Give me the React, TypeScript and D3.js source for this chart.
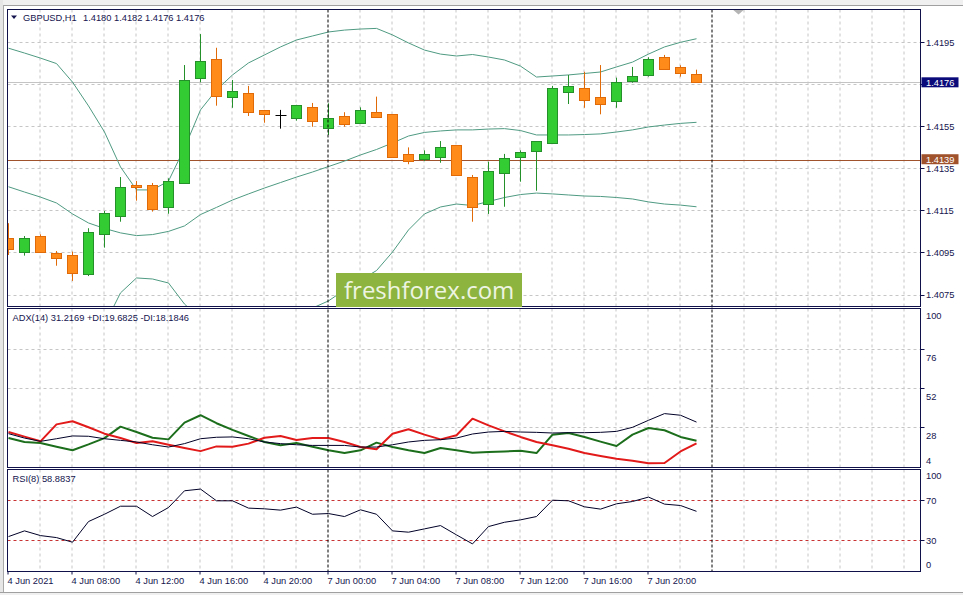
import React from 'react';
import * as d3 from 'd3';

// ---------- DATA ----------
const TIME_LABELS = ["4 Jun 2021", "4 Jun 08:00", "4 Jun 12:00", "4 Jun 16:00", "4 Jun 20:00", "7 Jun 00:00", "7 Jun 04:00", "7 Jun 08:00", "7 Jun 12:00", "7 Jun 16:00", "7 Jun 20:00"];
const TIME_LABEL_INDEX = [0, 4, 8, 12, 16, 20, 24, 28, 32, 36, 40];
const DAY_SEPARATOR_INDEX = [20, 44];

const OPEN = [1.41019, 1.40956, 1.41029, 1.40948, 1.40940, 1.40848, 1.41038, 1.41127, 1.41271, 1.41271, 1.41169, 1.41280, 1.41779, 1.41871, 1.41689, 1.41708, 1.41627, 1.41601, 1.41589, 1.41643, 1.41542, 1.41600, 1.41568, 1.41618, 1.41608, 1.41418, 1.41396, 1.41407, 1.41461, 1.41309, 1.41181, 1.41328, 1.41407, 1.41435, 1.41470, 1.41715, 1.41733, 1.41690, 1.41670, 1.41768, 1.41796, 1.41879, 1.41831, 1.41800];
const HIGH = [1.41091, 1.41030, 1.41038, 1.40959, 1.40956, 1.41067, 1.41149, 1.41310, 1.41291, 1.41282, 1.41304, 1.41842, 1.41989, 1.41924, 1.41771, 1.41743, 1.41629, 1.41629, 1.41653, 1.41662, 1.41660, 1.41618, 1.41641, 1.41692, 1.41608, 1.41451, 1.41437, 1.41481, 1.41461, 1.41320, 1.41383, 1.41420, 1.41437, 1.41480, 1.41743, 1.41795, 1.41810, 1.41842, 1.41782, 1.41833, 1.41879, 1.41890, 1.41841, 1.41820];
const LOW = [1.40940, 1.40937, 1.40956, 1.40889, 1.40817, 1.40840, 1.40975, 1.41098, 1.41198, 1.41146, 1.41136, 1.41280, 1.41760, 1.41649, 1.41639, 1.41600, 1.41568, 1.41540, 1.41578, 1.41549, 1.41510, 1.41549, 1.41568, 1.41592, 1.41407, 1.41371, 1.41386, 1.41378, 1.41318, 1.41098, 1.41135, 1.41169, 1.41288, 1.41245, 1.41470, 1.41657, 1.41639, 1.41608, 1.41639, 1.41758, 1.41787, 1.41822, 1.41787, 1.41760];
const CLOSE = [1.40967, 1.41019, 1.40956, 1.40927, 1.40856, 1.41048, 1.41138, 1.41262, 1.41262, 1.41157, 1.41290, 1.41771, 1.41861, 1.41696, 1.41719, 1.41618, 1.41608, 1.41601, 1.41651, 1.41578, 1.41589, 1.41561, 1.41627, 1.41597, 1.41407, 1.41388, 1.41418, 1.41451, 1.41318, 1.41167, 1.41339, 1.41399, 1.41429, 1.41480, 1.41733, 1.41743, 1.41677, 1.41658, 1.41760, 1.41790, 1.41869, 1.41822, 1.41806, 1.41760];

const BB_UPPER = [1.41922, 1.41899, 1.41875, 1.41849, 1.41761, 1.41648, 1.41524, 1.41358, 1.41249, 1.41249, 1.41291, 1.41448, 1.41629, 1.41724, 1.41795, 1.41852, 1.41890, 1.41928, 1.41961, 1.41980, 1.41999, 1.42008, 1.42013, 1.42016, 1.41985, 1.41947, 1.41913, 1.41894, 1.41885, 1.41892, 1.41880, 1.41866, 1.41837, 1.41785, 1.41790, 1.41795, 1.41802, 1.41809, 1.41833, 1.41856, 1.41894, 1.41928, 1.41950, 1.41967];
const BB_MIDDLE = [1.41264, 1.41239, 1.41215, 1.41187, 1.41135, 1.41092, 1.41066, 1.41045, 1.41032, 1.41037, 1.41052, 1.41078, 1.41132, 1.41166, 1.41201, 1.41230, 1.41258, 1.41284, 1.41310, 1.41334, 1.41360, 1.41386, 1.41415, 1.41441, 1.41472, 1.41505, 1.41522, 1.41529, 1.41534, 1.41534, 1.41538, 1.41540, 1.41531, 1.41510, 1.41510, 1.41510, 1.41512, 1.41515, 1.41524, 1.41534, 1.41548, 1.41557, 1.41565, 1.41570];
const BB_LOWER = [1.40608, 1.40579, 1.40555, 1.40525, 1.40508, 1.40536, 1.40608, 1.40760, 1.40831, 1.40826, 1.40807, 1.40707, 1.40636, 1.40608, 1.40608, 1.40608, 1.40627, 1.40641, 1.40660, 1.40688, 1.40722, 1.40774, 1.40821, 1.40866, 1.40954, 1.41059, 1.41135, 1.41168, 1.41182, 1.41175, 1.41194, 1.41213, 1.41227, 1.41234, 1.41230, 1.41225, 1.41220, 1.41218, 1.41213, 1.41206, 1.41192, 1.41182, 1.41177, 1.41169];

const ADX = [24.1, 21.4, 19.4, 21.0, 22.7, 22.5, 21.0, 20.0, 19.0, 17.3, 15.9, 18.0, 21.0, 21.9, 22.1, 21.0, 19.0, 18.0, 17.3, 16.9, 16.9, 16.9, 15.9, 15.9, 17.3, 19.0, 20.0, 20.4, 21.4, 23.9, 25.1, 25.5, 25.1, 24.9, 24.5, 24.7, 24.7, 24.9, 25.5, 28.0, 32.3, 36.4, 35.4, 31.2];
const PLUS_DI = [21.4, 19.0, 18.4, 16.1, 13.9, 17.5, 21.4, 28.4, 25.1, 21.6, 20.6, 30.9, 35.4, 30.5, 26.4, 22.7, 19.0, 17.0, 18.4, 16.1, 13.9, 12.2, 13.9, 18.6, 15.9, 13.9, 12.2, 15.3, 13.9, 12.4, 12.8, 13.2, 13.6, 12.2, 23.5, 24.5, 22.1, 19.2, 16.5, 23.5, 27.6, 26.2, 22.1, 19.7];
const MINUS_DI = [25.1, 22.3, 19.4, 29.8, 31.7, 28.0, 24.1, 21.4, 18.4, 19.4, 17.3, 15.3, 13.4, 16.3, 16.1, 18.0, 21.6, 22.7, 20.2, 21.4, 21.4, 19.0, 15.9, 14.5, 24.1, 26.8, 23.5, 20.6, 23.1, 33.3, 29.2, 25.5, 22.1, 19.0, 17.0, 14.9, 12.2, 10.4, 8.7, 7.5, 5.9, 6.1, 13.2, 18.2];
const RSI = [33.7, 39.4, 34.7, 32.7, 28.1, 48.7, 56.0, 64.0, 64.0, 53.7, 62.7, 79.4, 81.1, 69.4, 69.4, 62.1, 61.4, 60.1, 63.1, 56.0, 56.7, 53.7, 60.4, 56.0, 39.4, 38.1, 41.4, 44.7, 35.4, 26.4, 43.7, 48.0, 50.4, 53.7, 70.0, 69.4, 63.4, 61.1, 66.4, 68.7, 73.1, 66.1, 64.7, 58.9];

const PRICE_TICKS = [1.4195, 1.4175, 1.4155, 1.4135, 1.4115, 1.4095, 1.4075];
const ADX_TICKS = [100, 76, 52, 28, 4];
const ADX_GRID = [76, 52, 28];
const RSI_TICKS = [100, 70, 30, 0];
const RSI_LEVELS = [70, 30];
const BID_PRICE = 1.4176;
const LEVEL_PRICE = 1.4139;

const HEADER_SYMBOL = "GBPUSD,H1";
const HEADER_OHLC = "1.4180 1.4182 1.4176 1.4176";
const ADX_TITLE = "ADX(14) 31.2169 +DI:19.6825 -DI:18.1846";
const RSI_TITLE = "RSI(8) 58.8837";
const WATERMARK = "freshforex.com";

// ---------- LAYOUT ----------
const W = 963, H = 595;
const LEFT = 7.5, RIGHT = 920.5;
const MAIN_TOP = 9.5, MAIN_BOTTOM = 306.5;
const ADX_TOP = 308.5, ADX_BOTTOM = 467.5;
const RSI_TOP = 469.5, RSI_BOTTOM = 571.5;

const FONT = "'Liberation Sans', Arial, sans-serif";
const FS = 9.3;
const NAVY = "#10104a";
const TEXT = "#14144e";
const GRID = "#c6c6c6";

const BULL_FILL = "#33cc33", BULL_STROKE = "#23902a";
const BEAR_FILL = "#ff8c1a", BEAR_STROKE = "#e06a08";
const BAND = "#4f9a82";

export default function App() {
  const x = d3.scaleLinear().domain([0, 1]).range([8.5, 24.5]);
  const yP = d3.scaleLinear().domain([1.4075, 1.4195]).range([295, 42.3]);
  const yA = d3.scaleLinear().domain([28, 76]).range([427.3, 349]);
  const yR = d3.scaleLinear().domain([30, 70]).range([540.3, 500.2]);

  const idx = d3.range(OPEN.length);
  const gridIdx = d3.range(2, 57, 2);
  const snap = (v: number) => Math.round(v - 0.5) + 0.5;

  const lineP = (arr: number[]) => d3.line<number>().x((_, i) => x(i)).y(v => yP(v))(arr) || "";
  const lineA = (arr: number[]) => d3.line<number>().x((_, i) => x(i)).y(v => yA(v))(arr) || "";
  const lineR = (arr: number[]) => d3.line<number>().x((_, i) => x(i)).y(v => yR(v))(arr) || "";

  // price labels hidden beneath the bid / level boxes are not drawn
  const labelVisible = (p: number) =>
    Math.abs(yP(p) - yP(BID_PRICE)) > 8 && Math.abs(yP(p) - (yP(LEVEL_PRICE) - 1)) > 8;

  const vGrid = (top: number, bottom: number, key: string) =>
    gridIdx.filter(i => !DAY_SEPARATOR_INDEX.includes(i)).map(i => (
      <line key={key + i} x1={x(i) - 0.5} x2={x(i) - 0.5} y1={top} y2={bottom} stroke={GRID} strokeDasharray="3,3" />
    ));

  return (
    <svg width={W} height={H} style={{ position: 'absolute', left: 0, top: 0, background: '#fff' }} fontFamily={FONT}>
      <defs>
        <clipPath id="cMain"><rect x={LEFT} y={MAIN_TOP} width={RIGHT - LEFT} height={MAIN_BOTTOM - MAIN_TOP} /></clipPath>
        <clipPath id="cAdx"><rect x={LEFT} y={ADX_TOP} width={RIGHT - LEFT} height={ADX_BOTTOM - ADX_TOP} /></clipPath>
        <clipPath id="cRsi"><rect x={LEFT} y={RSI_TOP} width={RIGHT - LEFT} height={RSI_BOTTOM - RSI_TOP} /></clipPath>
      </defs>
      <rect x={0} y={0} width={W} height={H} fill="#fff" />
      {/* window chrome */}
      <rect x={0} y={0} width={W} height={5} fill="#f0f0f0" />
      <line x1={0} x2={W} y1={5.5} y2={5.5} stroke="#a0a0a0" />
      <rect x={0} y={0} width={3} height={H} fill="#e6e6e6" />
      <line x1={3.5} x2={3.5} y1={5} y2={592} stroke="#a8a8a8" />
      <rect x={0} y={592} width={W} height={3} fill="#f0f0f0" />
      <line x1={0} x2={W} y1={592.5} y2={592.5} stroke="#a0a0a0" />

      {/* ===== MAIN PANEL ===== */}
      <g>
        {vGrid(MAIN_TOP, MAIN_BOTTOM, 'm')}
        {PRICE_TICKS.map(p => (
          <line key={'hp' + p} x1={LEFT} x2={RIGHT} y1={snap(yP(p))} y2={snap(yP(p))} stroke={GRID} strokeDasharray="3,3" />
        ))}
        <line x1={LEFT} x2={RIGHT} y1={snap(yP(BID_PRICE))} y2={snap(yP(BID_PRICE))} stroke="#c4c4c4" />
        <line x1={LEFT} x2={RIGHT} y1={snap(yP(LEVEL_PRICE))} y2={snap(yP(LEVEL_PRICE))} stroke="#a0522d" />
        <g clipPath="url(#cMain)">
          <path d={lineP(BB_UPPER)} fill="none" stroke={BAND} strokeWidth={1} />
          <path d={lineP(BB_MIDDLE)} fill="none" stroke={BAND} strokeWidth={1} />
          <path d={lineP(BB_LOWER)} fill="none" stroke={BAND} strokeWidth={1} />
          {idx.map(i => {
            const o = OPEN[i], c = CLOSE[i];
            const cx = x(i);
            const doji = Math.abs(o - c) < 0.00002;
            const bull = c > o;
            const wick = doji ? '#000' : bull ? BULL_STROKE : BEAR_STROKE;
            const yt = yP(Math.max(o, c)), yb = yP(Math.min(o, c));
            return (
              <g key={'c' + i}>
                <line x1={cx} x2={cx} y1={yP(HIGH[i])} y2={yP(LOW[i])} stroke={wick} strokeWidth={1} />
                {doji ? (
                  <line x1={cx - 5} x2={cx + 6} y1={snap(yt)} y2={snap(yt)} stroke="#000" />
                ) : (
                  <rect x={cx - 5} y={Math.round(yt) + 0.5} width={10} height={Math.max(1, Math.round(yb) - Math.round(yt))}
                    fill={bull ? BULL_FILL : BEAR_FILL} stroke={bull ? BULL_STROKE : BEAR_STROKE} strokeWidth={1} />
                )}
              </g>
            );
          })}
        </g>
        <polygon points={`${x(45.3)},${MAIN_TOP + 0.5} ${x(45.95)},${MAIN_TOP + 0.5} ${x(45.625)},${MAIN_TOP + 5}`} fill="#b4b4b4" />
        {/* header */}
        <polygon points="11,15.5 17,15.5 14,19" fill={TEXT} />
        <text x={23} y={20.7} fontSize={FS} fill={TEXT}>{HEADER_SYMBOL}</text>
        <text x={83} y={20.7} fontSize={FS} fill={TEXT}>{HEADER_OHLC}</text>
        {/* price axis */}
        {PRICE_TICKS.map(p => (
          <g key={'pt' + p}>
            <line x1={RIGHT} x2={RIGHT + 4} y1={snap(yP(p))} y2={snap(yP(p))} stroke={NAVY} />
            {labelVisible(p) && <text x={926} y={yP(p) + 3.3} fontSize={FS} fill={TEXT}>{p.toFixed(4)}</text>}
          </g>
        ))}
        <rect x={921.5} y={yP(BID_PRICE) - 5} width={37} height={10} fill="#0a0a7a" />
        <text x={926} y={yP(BID_PRICE) + 3.3} fontSize={FS} fill="#fff">{BID_PRICE.toFixed(4)}</text>
        <rect x={921.5} y={yP(LEVEL_PRICE) - 6} width={37} height={10} fill="#a0522d" />
        <text x={926} y={yP(LEVEL_PRICE) + 2.3} fontSize={FS} fill="#fff">{LEVEL_PRICE.toFixed(4)}</text>
      </g>

      {/* ===== ADX PANEL ===== */}
      <g>
        {vGrid(ADX_TOP, ADX_BOTTOM, 'a')}
        {ADX_GRID.map(v => (
          <line key={'ga' + v} x1={LEFT} x2={RIGHT} y1={snap(yA(v))} y2={snap(yA(v))} stroke={GRID} strokeDasharray="3,3" />
        ))}
        <g clipPath="url(#cAdx)">
          <path d={lineA(PLUS_DI)} fill="none" stroke="#1c6e1c" strokeWidth={2} strokeLinejoin="round" />
          <path d={lineA(MINUS_DI)} fill="none" stroke="#e21a1a" strokeWidth={2} strokeLinejoin="round" />
          <path d={lineA(ADX)} fill="none" stroke="#000028" strokeWidth={1} />
        </g>
        <text x={12.5} y={321} fontSize={FS} fill={TEXT}>{ADX_TITLE}</text>
        {ADX_TICKS.map((v, k) => {
          const ly = k === 0 ? ADX_TOP + 7.2 : k === ADX_TICKS.length - 1 ? ADX_BOTTOM - 7.2 : yA(v) + 8.3;
          return (
            <g key={'at' + v}>
              {ADX_GRID.includes(v) && <line x1={RIGHT} x2={RIGHT + 4} y1={snap(yA(v))} y2={snap(yA(v))} stroke={NAVY} />}
              <text x={926} y={ly + 3.3} fontSize={FS} fill={TEXT}>{v}</text>
            </g>
          );
        })}
      </g>

      {/* ===== RSI PANEL ===== */}
      <g>
        {vGrid(RSI_TOP, RSI_BOTTOM, 'r')}
        {RSI_LEVELS.map(v => (
          <line key={'rl' + v} x1={LEFT} x2={RIGHT} y1={snap(yR(v))} y2={snap(yR(v))} stroke="#c83232" strokeDasharray="3,3" />
        ))}
        <g clipPath="url(#cRsi)">
          <path d={lineR(RSI)} fill="none" stroke="#000028" strokeWidth={1} />
        </g>
        <text x={12.5} y={482.3} fontSize={FS} fill={TEXT}>{RSI_TITLE}</text>
        {RSI_TICKS.map((v, k) => {
          const ly = k === 0 ? RSI_TOP + 6.5 : k === RSI_TICKS.length - 1 ? RSI_BOTTOM - 7 : yR(v) + 0.5;
          return (
            <g key={'rt' + v}>
              {RSI_LEVELS.includes(v) && <line x1={RIGHT} x2={RIGHT + 4} y1={snap(yR(v))} y2={snap(yR(v))} stroke={NAVY} />}
              <text x={926} y={ly + 3.3} fontSize={FS} fill={TEXT}>{v}</text>
            </g>
          );
        })}
      </g>

      {/* day separators */}
      {DAY_SEPARATOR_INDEX.map(i => (
        <line key={'ds' + i} x1={x(i) - 0.5} x2={x(i) - 0.5} y1={MAIN_TOP} y2={RSI_BOTTOM} stroke="#000" strokeDasharray="3,2" />
      ))}

      {/* frames */}
      <rect x={LEFT} y={MAIN_TOP} width={RIGHT - LEFT} height={MAIN_BOTTOM - MAIN_TOP} fill="none" stroke={NAVY} />
      <rect x={LEFT} y={ADX_TOP} width={RIGHT - LEFT} height={ADX_BOTTOM - ADX_TOP} fill="none" stroke={NAVY} />
      <rect x={LEFT} y={RSI_TOP} width={RIGHT - LEFT} height={RSI_BOTTOM - RSI_TOP} fill="none" stroke={NAVY} />

      {/* time axis */}
      {TIME_LABEL_INDEX.map((i, k) => (
        <g key={'tl' + i}>
          <line x1={x(i) - 0.5} x2={x(i) - 0.5} y1={RSI_BOTTOM} y2={RSI_BOTTOM + 3} stroke={NAVY} />
          <text x={x(i) - 1} y={583.5} fontSize={FS} fill={TEXT}>{TIME_LABELS[k]}</text>
        </g>
      ))}

      {/* watermark */}
      <rect x={336} y={273} width={186} height={34} fill="#8cb43e" />
      <text x={344} y={298.5} fontSize={24} fontFamily="'Open Sans', sans-serif" fill="#eef4e2">{WATERMARK}</text>
    </svg>
  );
}
